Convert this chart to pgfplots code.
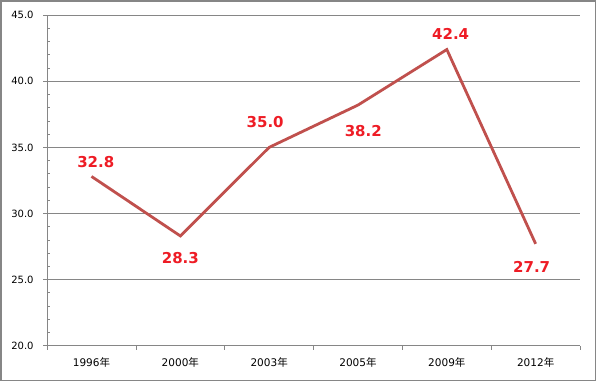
\documentclass[border=0pt]{standalone}
\usepackage{pgfplots}
\pgfplotsset{compat=1.18}
\usepackage{fontspec}
\setmainfont{DejaVu Sans}
\newfontfamily\cjk{Noto Sans CJK SC}
\definecolor{linered}{RGB}{192,80,77}
\definecolor{labred}{RGB}{238,28,37}
\definecolor{gridgray}{RGB}{134,134,134}
\tikzset{labstyle/.style={labred, font=\fontsize{15}{17}\bfseries\selectfont, anchor=center,
    /pgf/number format/.cd, fixed, zerofill, precision=1, assume math mode=true}}
\newcommand\lab[4]{\addplot[draw=none, nodes near coords,
  nodes near coords style={xshift=#3pt, yshift=#4pt, labstyle}] coordinates {(#1,#2)};}
\begin{document}
\begin{tikzpicture}[x=1pt,y=1pt]
\useasboundingbox (0,0) rectangle (599,384);
\draw[gridgray, line width=1.3pt] (1,3.5) rectangle (595.5,383);
\begin{axis}[
  at={(53,29)}, anchor=south west,
  scale only axis, width=533pt, height=330.5pt,
  xmin=-0.5, xmax=5.5, ymin=20, ymax=45,
  axis x line=bottom, axis y line=left,
  axis line style={-, gridgray, line width=0.8pt},
  xtick={-0.5,0.5,...,5.5}, xticklabels={},
  extra x ticks={0,1,2,3,4,5},
  extra x tick labels={1996{\cjk 年},2000{\cjk 年},2003{\cjk 年},2005{\cjk 年},2009{\cjk 年},2012{\cjk 年}},
  extra x tick style={major tick length=0pt, grid=none},
  ytick={20,25,...,45},
  minor y tick num=4,
  ymajorgrids,
  grid style={gridgray, line width=0.8pt},
  tick style={gridgray, line width=0.8pt},
  tick align=outside,
  major tick length=4pt,
  minor tick length=3pt,
  minor y tick style={xshift=3pt},
  ticklabel style={font=\fontsize{10}{12}\selectfont, black},
  yticklabel style={xshift=-6pt, /pgf/number format/.cd, fixed, zerofill, precision=1},
  /pgf/number format/assume math mode=true,
  x tick label style={font=\fontsize{10.5}{12}\selectfont, yshift=-8pt},
  clip=false,
]
\addplot[linered, line width=2.8pt, line join=miter] coordinates {
  (0,32.8) (1,28.3) (2,35.0) (3,38.2) (4,42.4) (5,27.7)};
\lab{0}{32.8}{4.3}{14.3}
\lab{1}{28.3}{0}{-21.7}
\lab{2}{35.0}{-4}{25.7}
\lab{3}{38.2}{5.3}{-25.6}
\lab{4}{42.4}{3.8}{16.1}
\lab{5}{27.7}{-4}{-22.8}
\end{axis}
\end{tikzpicture}
\end{document}
